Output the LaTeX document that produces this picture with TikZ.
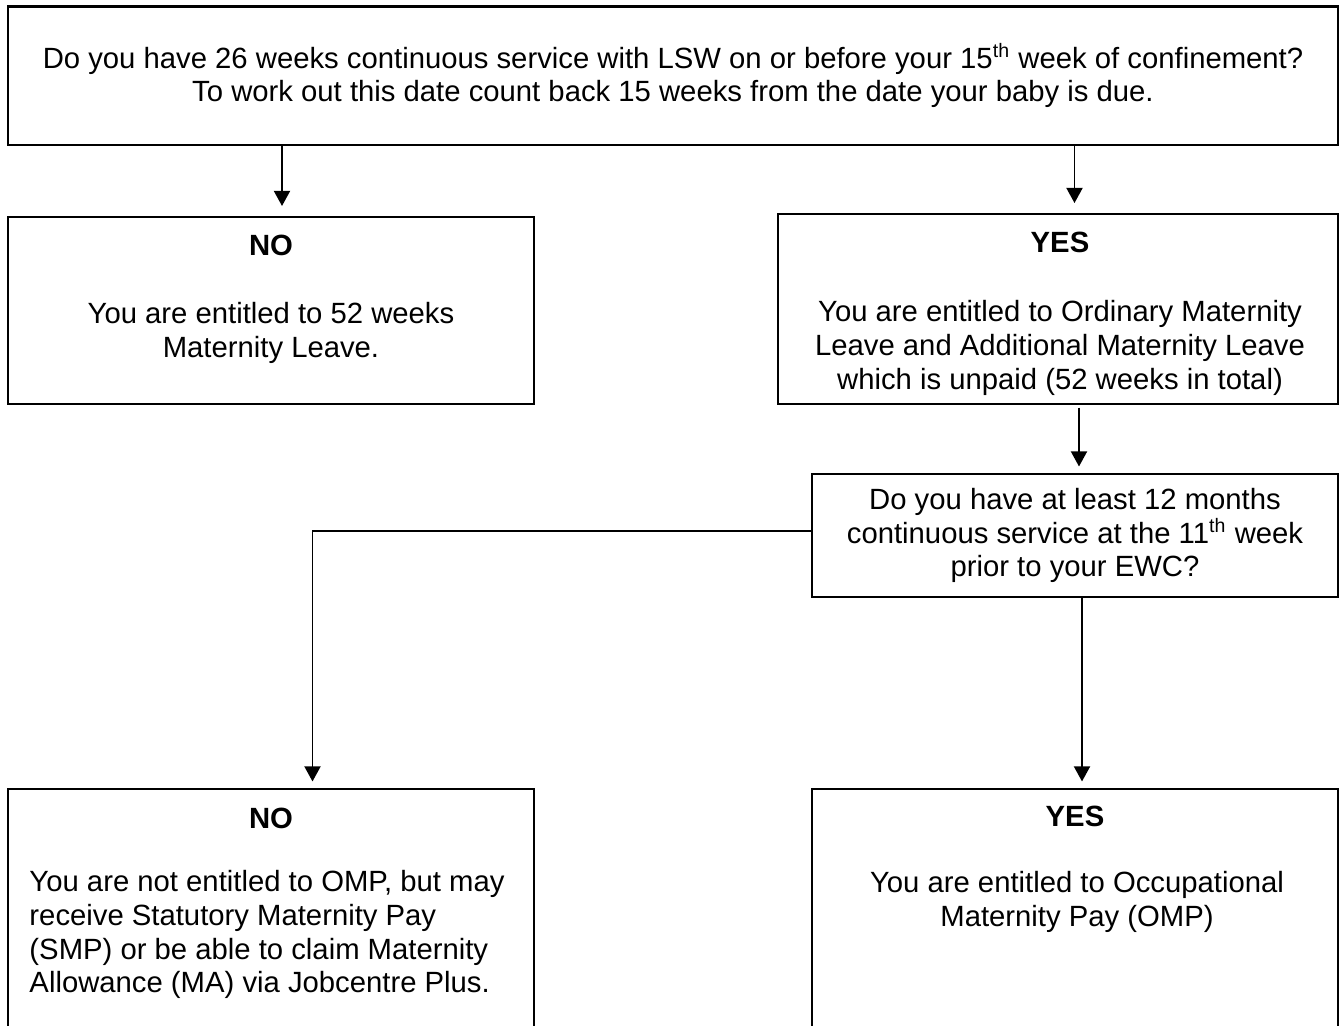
\documentclass[tikz,border=0pt]{standalone}
\usepackage{fontspec}
\setmainfont{Liberation Sans}
\usetikzlibrary{arrows.meta, positioning}

\begin{document}
\begin{tikzpicture}[x=0.41pt, y=-0.41pt,
      box/.style={draw, line width=1pt, inner sep=0pt},
      txt/.style={font=\fontsize{12}{13.9}\selectfont, align=center, inner sep=0pt},
      head/.style={txt, font=\fontsize{12}{13.9}\selectfont\bfseries},
      arrow/.style={-{Triangle[length=6.2pt, width=6.6pt]}, line width=0.7pt,
                    shorten >=2.6pt}
    ]
    \useasboundingbox (0,0) rectangle (1343,1026);

    % Question boxes
    \node[box, txt, minimum width=545.3pt, minimum height=56.6pt] (q1) at (673,75.7)
      {Do you have 26 weeks continuous service with LSW on or before your 15\textsuperscript{th} week of confinement?\\
       To work out this date count back 15 weeks from the date your baby is due.};
    \node[box, txt, minimum width=215.7pt, minimum height=50.4pt] (q2) at (1075,535.5)
      {Do you have at least 12 months\\continuous service at the 11\textsuperscript{th} week\\prior to your EWC?};

    % Answer boxes
    \node[box, minimum width=215.7pt, minimum height=76.7pt] (no1) at (271,310.5) {};
    \node[box, minimum width=229.6pt, minimum height=77.9pt] (yes1) at (1058,309) {};
    \node[box, minimum width=215.7pt, minimum height=111.1pt] (no2) at (271,924.5) {};
    \node[box, minimum width=215.7pt, minimum height=111.1pt] (yes2) at (1075,924.5) {};

    % Answer texts
    \node[head] (no1h) at (271,245.7) {NO};
    \node[txt] (no1t) at (271,333) {You are entitled to 52 weeks\\Maternity Leave.};
    \node[head] (yes1h) at (1060,242.7) {YES};
    \node[txt] (yes1t) at (1060,348)
      {You are entitled to Ordinary Maternity\\Leave and Additional Maternity Leave\\which is unpaid (52 weeks in total)};
    \node[head] (no2h) at (271,818) {NO};
    \node[txt, align=left, anchor=west] (no2t) at (29,934.5)
      {You are not entitled to OMP, but may\\receive Statutory Maternity Pay\\(SMP) or be able to claim Maternity\\Allowance (MA) via Jobcentre Plus.};
    \node[head] (yes2h) at (1075,816.7) {YES};
    \node[txt] (yes2t) at (1077,901.5) {You are entitled to Occupational\\Maternity Pay (OMP)};

    % Connectors
    \draw[arrow, shorten >=4pt] (q1.south -| 282,0) -- (no1.north -| 282,0);
    \draw[arrow, shorten >=4pt] (q1.south -| 1074.5,0) -- (yes1.north -| 1074.5,0);
    \draw[arrow, shorten <=1pt] (yes1.south -| 1079,0) -- (q2.north -| 1079,0);
    \draw[arrow] (q2.west |- 0,531) -| (no2.north -| 312.5,0);
    \draw[arrow] (q2.south -| 1082,0) -- (yes2.north -| 1082,0);
  \end{tikzpicture}
\end{document}
